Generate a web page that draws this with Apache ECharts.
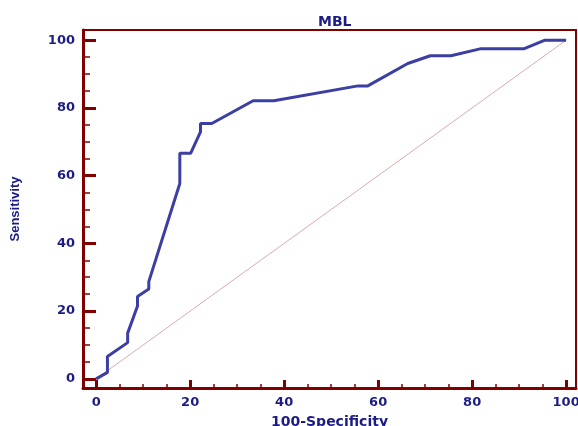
<!DOCTYPE html>
<html>
<head>
<meta charset="utf-8">
<script src="https://cdn.jsdelivr.net/npm/echarts@6/dist/echarts.min.js"></script>
<style>html,body{margin:0;padding:0;background:#fff}#c{width:578px;height:426px}</style>
</head>
<body>
<div id="c"></div>
<script>
var titleText = 'MBL';
var xName = '100-Specificity';
var yName = 'Sensitivity';
var majorTicks = [0, 20, 40, 60, 80, 100];
var minorTicks = [5, 10, 15, 25, 30, 35, 45, 50, 55, 65, 70, 75, 85, 90, 95];
var fpr = [0, 2.4, 2.4, 6.7, 6.7, 8.8, 8.8, 11.2, 11.2, 17.8, 17.8, 20.1, 22.2, 22.2, 24.6, 33.4, 37.8, 55.7, 57.8, 66.3, 71.1, 75.5, 81.9, 91.1, 95.5, 100];
var tpr = [0, 1.9, 6.6, 10.7, 13.5, 21.5, 24.3, 26.5, 28.7, 57.7, 66.6, 66.6, 72.9, 75.4, 75.4, 82.1, 82.1, 86.5, 86.5, 93.1, 95.4, 95.4, 97.5, 97.5, 100, 100];
var diagX = [0, 100];
var diagY = [0, 100];

var navy = '#1c1c86';
var axisRed = '#800000';
var labelFont = {color: navy, fontFamily: 'DejaVu Sans', fontWeight: 'bold', fontSize: 13};

function pairs(xs, ys) { return xs.map(function (x, i) { return [x, ys[i]]; }); }

var xMin = -2.8, xMax = 102.1, yMin = -2.7, yMax = 103;

var chart = echarts.init(document.getElementById('c'));
chart.setOption({
  animation: false,
  title: {
    text: titleText, left: 313, top: 10,
    textStyle: {color: navy, fontFamily: 'DejaVu Sans', fontWeight: 'bold', fontSize: 14}
  },
  grid: {
    left: 83, right: 2, top: 30, bottom: 38,
    show: true, borderColor: axisRed, borderWidth: 2,
    containLabel: false, outerBoundsMode: 'none'
  },
  xAxis: [{
    type: 'value', min: xMin, max: xMax, position: 'bottom', offset: 0,
    name: xName, nameLocation: 'middle', nameGap: 27,
    nameTextStyle: {color: navy, fontFamily: 'DejaVu Sans', fontWeight: 'bold', fontSize: 14},
    axisLine: {show: true, onZero: false, lineStyle: {color: axisRed, width: 3}},
    axisTick: {show: true, inside: true, length: 8, customValues: majorTicks, lineStyle: {color: axisRed, width: 3}},
    axisLabel: Object.assign({show: true, margin: 8, customValues: majorTicks}, labelFont),
    splitLine: {show: false}
  }, {
    type: 'value', min: xMin, max: xMax, position: 'bottom', offset: 0,
    axisLine: {show: false, onZero: false},
    axisTick: {show: true, inside: true, length: 4, customValues: minorTicks, lineStyle: {color: axisRed, width: 1.5}},
    axisLabel: {show: false},
    splitLine: {show: false}
  }],
  yAxis: [{
    type: 'value', min: yMin, max: yMax, position: 'left', offset: 0,
    name: yName, nameLocation: 'middle', nameGap: 61, nameRotate: 90,
    nameTextStyle: {color: navy, fontFamily: 'Liberation Sans', fontWeight: 'bold', fontSize: 13},
    axisLine: {show: true, onZero: false, lineStyle: {color: axisRed, width: 3}},
    axisTick: {show: true, inside: true, length: 13, customValues: majorTicks, lineStyle: {color: axisRed, width: 3}},
    axisLabel: Object.assign({show: true, margin: 8, customValues: majorTicks}, labelFont),
    splitLine: {show: false}
  }, {
    type: 'value', min: yMin, max: yMax, position: 'left', offset: 0,
    axisLine: {show: false, onZero: false},
    axisTick: {show: true, inside: true, length: 7, customValues: minorTicks, lineStyle: {color: axisRed, width: 1.5}},
    axisLabel: {show: false},
    splitLine: {show: false}
  }],
  series: [{
    type: 'line', xAxisIndex: 0, yAxisIndex: 0,
    data: pairs(diagX, diagY), showSymbol: false, symbol: 'none',
    lineStyle: {color: '#dcaaaa', width: 1}, z: 2
  }, {
    type: 'line', xAxisIndex: 0, yAxisIndex: 0,
    data: pairs(fpr, tpr), showSymbol: false, symbol: 'none',
    lineStyle: {color: '#3b3ea2', width: 3}, z: 3
  }]
});
</script>
</body>
</html>
